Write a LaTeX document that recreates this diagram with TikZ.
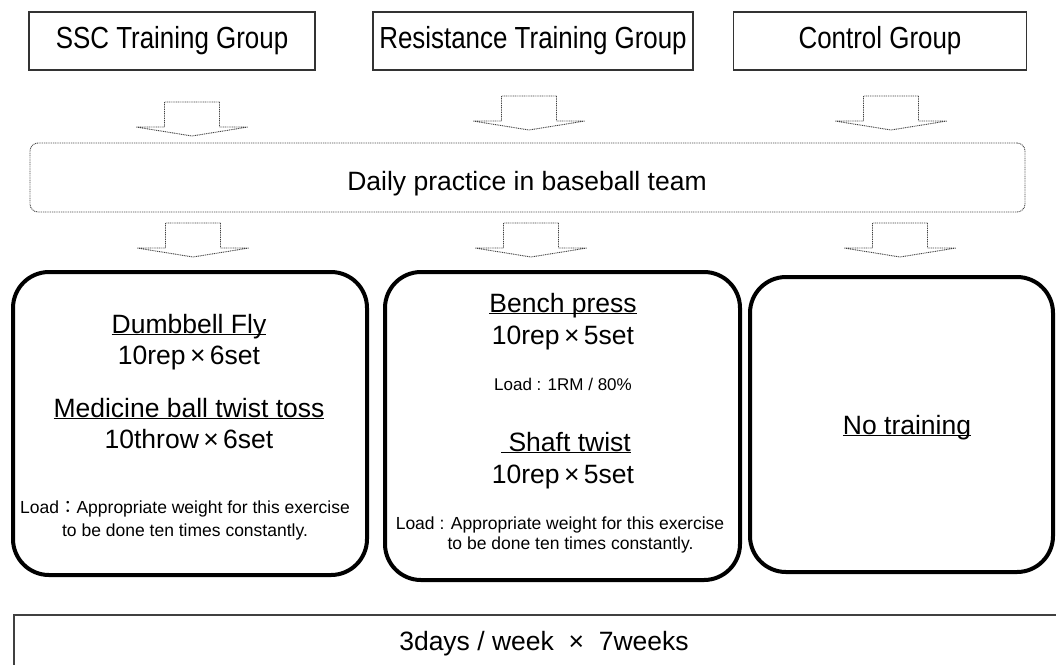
\documentclass[tikz,border=0pt]{standalone}
\usepackage{fontspec}
\setmainfont{Liberation Sans}
\newfontfamily\narrowfont{Liberation Sans}[FakeStretch=0.85]
\newfontfamily\cjk{Noto Sans CJK JP}
\usetikzlibrary{positioning,calc}
\newcommand{\ulbl}[1]{\underline{\smash{#1}}}
\newcommand{\reps}[2]{#1\,×\,#2}

\begin{document}
\begin{tikzpicture}[
x=1pt, y=-1pt,
groupbox/.style={draw=black!80, line width=1.2pt, minimum height=58pt, inner sep=0pt, font=\narrowfont\fontsize{30.5}{34}\selectfont},
practice/.style={draw=black!70, line width=0.9pt, dash pattern=on 1pt off 0.8pt, rounded corners=8pt, minimum width=995pt, minimum height=69pt},
planbox/.style={draw, line width=4pt, rounded corners=36pt},
main/.style={font=\fontsize{26.5}{30}\selectfont, inner sep=0pt, anchor=base},
small/.style={font=\fontsize{17.5}{23}\selectfont, align=center, inner sep=0pt},
flatarrow/.pic={
  \draw[black!75, line width=0.9pt, dash pattern=on 1pt off 0.8pt, line join=round]
    (-27.5,0) -- (-27.5,25) -- (-56,25) -- (0,34) -- (56,25) -- (27.5,25) -- (27.5,0) -- cycle;
}
]
\useasboundingbox (0,0) rectangle (1056,664);
\clip (0,0) rectangle (1056,664);

% groups
\node[groupbox, minimum width=286pt] (ssc) at (172,41) {SSC Training Group};
\node[groupbox, minimum width=320pt] (res) at (533,41) {Resistance Training Group};
\node[groupbox, minimum width=293pt] (ctl) at (880,41) {Control Group};

\node[practice] (daily) at (527.5,177.5) {};
\node[main] (dailytxt) at (527,190) {Daily practice in baseball team};

\pic at (192,102) {flatarrow};
\pic at (529,96) {flatarrow};
\pic at (891,96) {flatarrow};
\pic at (193,223) {flatarrow};
\pic at (531,223) {flatarrow};
\pic at (900,223) {flatarrow};

% training contents
\node[planbox, minimum width=354pt, minimum height=303pt] (sscplan) at (190,423.5) {};
\node[planbox, minimum width=355pt, minimum height=308pt] (resplan) at (562.5,426) {};
\node[planbox, minimum width=303pt, minimum height=295pt] (ctlplan) at (901.5,424.5) {};

\node[main] (fly) at (189,333) {\ulbl{Dumbbell Fly}};
\node[main] (flyrep) at (189,364) {\reps{10rep}{6set}};
\node[main] (toss) at (189,417) {\ulbl{Medicine ball twist toss}};
\node[main] (tossrep) at (189,448) {\reps{10throw}{6set}};
\node[small] (sscload) at (185,520) {Load{\cjk ：}Appropriate weight for this exercise\\to be done ten times constantly.};

\node[main] (bench) at (563,312) {\ulbl{Bench press}};
\node[main] (benchrep) at (563,344) {\reps{10rep}{5set}};
\node[main, font=\fontsize{17}{20}\selectfont] (benchload) at (563,390) {Load : 1RM / 80\%};
\node[main] (shaft) at (566,451) {\ulbl{\ Shaft twist}};
\node[main] (shaftrep) at (563,483) {\reps{10rep}{5set}};
\node[small, font=\fontsize{17.5}{20}\selectfont] (resload) at (560,535) {Load : Appropriate weight for this exercise\\\hspace*{1.2em}to be done ten times constantly.};

\node[main] (none) at (907,434) {\ulbl{No training}};

% period
\node[draw=black!75, line width=1.8pt, minimum width=1062pt, minimum height=70pt] (weekbox) at (545,650) {};
\node[main] (weeks) at (544,650) {3days / week \ × \ 7weeks};
\end{tikzpicture}
\end{document}
